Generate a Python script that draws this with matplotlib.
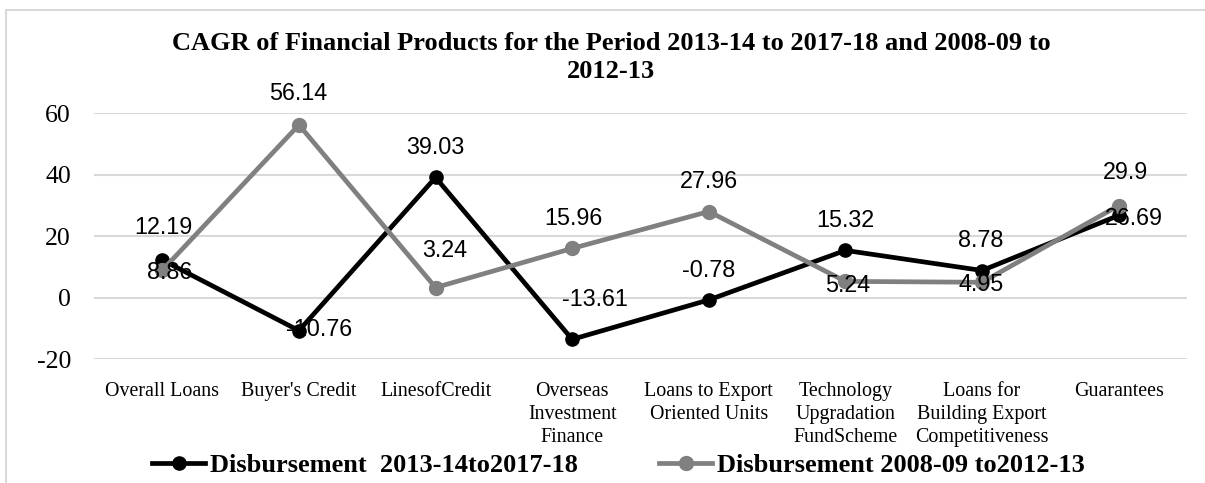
import numpy as np
import matplotlib
matplotlib.use("Agg")
import matplotlib.pyplot as plt
from matplotlib.patches import Rectangle

# chart data
categories = ["Overall Loans", "Buyer's Credit", "LinesofCredit",
              "Overseas\nInvestment\nFinance", "Loans to Export\nOriented Units",
              "Technology\nUpgradation\nFundScheme",
              "Loans for\nBuilding Export\nCompetitiveness", "Guarantees"]
disb_2013_18 = [12.19, -10.76, 39.03, -13.61, -0.78, 15.32, 8.78, 26.69]
disb_2008_13 = [8.86, 56.14, 3.24, 15.96, 27.96, 5.24, 4.95, 29.9]
labels_2013_18 = ["12.19", "-10.76", "39.03", "-13.61", "-0.78", "15.32", "8.78", "26.69"]
labels_2008_13 = ["8.86", "56.14", "3.24", "15.96", "27.96", "5.24", "4.95", "29.9"]
y_ticks = [-20, 0, 20, 40, 60]

# data label offsets (pixels, centre of digits relative to the point)
off_black = [(1, 34), (20, 3), (0, 32), (23, 42), (0, 31), (0, 32), (-1, 32), (15, -1)]
off_gray = [(7, 0), (-1, 33), (9, 39), (1, 32), (0, 32), (2, -2), (-1, 0), (7, 35)]

W, H = 1205, 483
fig = plt.figure(figsize=(W / 100, H / 100), dpi=100)
ax = fig.add_axes([94 / W, 1 - 359 / H, (1187 - 94) / W, (359 - 113) / H])

# outer chart border
fig.add_artist(Rectangle((6 / W, -0.2), 1.2, 1.2 - 10 / H, transform=fig.transFigure,
                         fill=False, ec='#d9d9d9', lw=1.5))

x = np.arange(len(categories))
black, gray = '#000000', '#808080'
ax.plot(x, disb_2013_18, color=black, lw=3.4, marker='o', ms=9.5,
        label='Disbursement  2013-14to2017-18', zorder=3)
ax.plot(x, disb_2008_13, color=gray, lw=3.4, marker='o', ms=10,
        label='Disbursement 2008-09 to2012-13', zorder=4)

ax.set_xlim(-0.5, len(categories) - 0.5)
ax.set_ylim(-20, 60)
ax.set_yticks(y_ticks)
ax.set_xticks(x)
ax.set_xticklabels(categories, family='Liberation Serif', fontsize=14.4, linespacing=1.3)
ax.set_yticklabels([str(v) for v in y_ticks], family='Liberation Serif', fontsize=18.5)
ax.tick_params(axis='both', length=0)
ax.tick_params(axis='x', pad=16.5)
ax.tick_params(axis='y', pad=16.5)
ax.grid(axis='y', color='#d9d9d9', lw=1.5)
ax.set_axisbelow(True)
for s in ax.spines.values():
    s.set_visible(False)

# data labels
px = 0.72
for vals, labs, offs in [(disb_2013_18, labels_2013_18, off_black),
                         (disb_2008_13, labels_2008_13, off_gray)]:
    for xi, v, t, (dx, dy) in zip(x, vals, labs, offs):
        ax.annotate(t, (xi, v), xytext=(dx * px, (dy - 8.4) * px), textcoords='offset points',
                    ha='center', va='baseline', family='Liberation Sans', fontsize=16.8,
                    color='black', zorder=6, annotation_clip=False)

fig.text(611 / W, 1 - 32 / H,
         "CAGR of Financial Products for the Period 2013-14 to 2017-18 and 2008-09 to\n2012-13",
         ha='center', va='top', family='Liberation Serif', fontweight='bold',
         fontsize=19, linespacing=1.3)

fig.legend(loc='center', bbox_to_anchor=(618.5 / W, 1 - 465 / H), ncol=2, frameon=False,
           prop={'family': 'Liberation Serif', 'weight': 'bold', 'size': 19},
           handlelength=2.0, handletextpad=0.19, columnspacing=3.08, borderpad=0)

fig.savefig('out.png', dpi=100)
